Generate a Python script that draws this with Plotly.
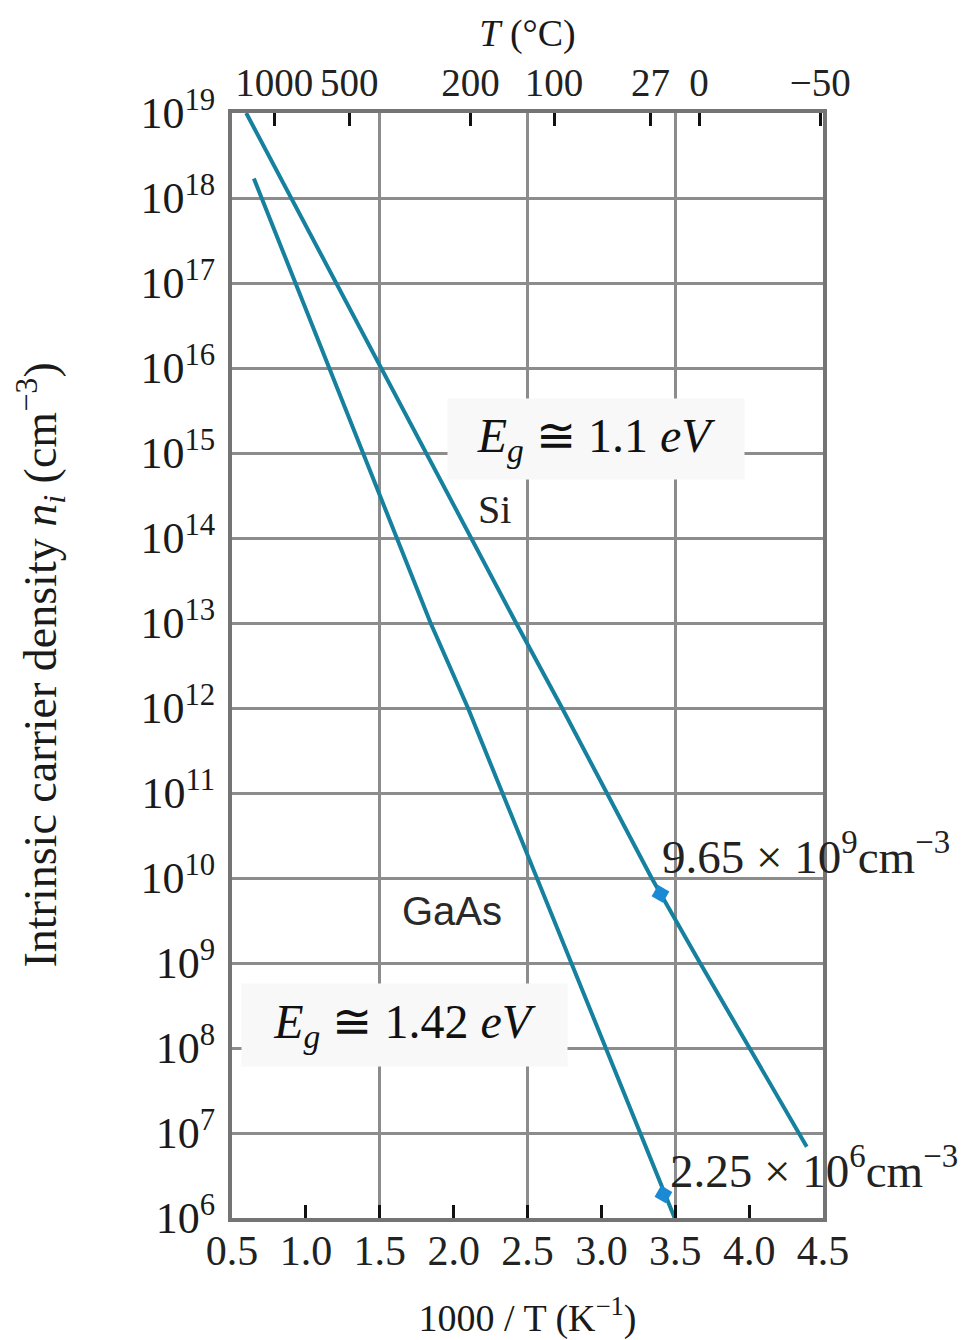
import plotly.graph_objects as go

# ---------------- data ----------------
si_x = [0.596, 0.90, 1.205, 1.51, 1.81, 2.118, 2.423, 2.734, 3.036, 3.34, 3.668, 4.0, 4.33, 4.39]
si_n = [1e19, 1e18, 1e17, 1e16, 1e15, 1e14, 1e13, 1e12, 1e11, 1e10, 1e9, 1e8, 1e7, 6.9e6]

gaas_x = [0.648, 0.701, 0.928, 1.16, 1.388, 1.619, 1.844, 2.097, 2.331, 2.566, 2.797, 3.03, 3.265, 3.496]
gaas_n = [1.7e18, 1e18, 1e17, 1e16, 1e15, 1e14, 1e13, 1e12, 1e11, 1e10, 1e9, 1e8, 1e7, 1e6]

si_mark_x = [3.40]
si_mark_n = [6.5e9]
gaas_mark_x = [3.42]
gaas_mark_n = [1.9e6]

x_ticks = [0.5, 1.0, 1.5, 2.0, 2.5, 3.0, 3.5, 4.0, 4.5]
x_ticktext = ["0.5", "1.0", "1.5", "2.0", "2.5", "3.0", "3.5", "4.0", "4.5"]
x_grid = [1.5, 2.5, 3.5]
y_exponents = list(range(6, 20))
top_temps_c = [1000, 500, 200, 100, 27, 0, -50]
top_ticktext = ["1000", "500", "200", "100", "27", "0", "−50"]

# ---------------- style ----------------
LINE = "#16809f"
MARK = "#1a8ad4"
GRID = "#8c8c8c"
FRAME = "#747474"
TXT = "#1a1a1a"
SERIF = "Liberation Serif"

top_ticks = [1000.0 / (t + 273.15) for t in top_temps_c]

fig = go.Figure()
fig.add_trace(go.Scatter(x=si_x, y=si_n, mode="lines", line=dict(color=LINE, width=4),
                         hoverinfo="skip", showlegend=False))
fig.add_trace(go.Scatter(x=gaas_x, y=gaas_n, mode="lines", line=dict(color=LINE, width=4),
                         hoverinfo="skip", showlegend=False))
fig.add_trace(go.Scatter(x=si_mark_x + gaas_mark_x, y=si_mark_n + gaas_mark_n, mode="markers",
                         marker=dict(symbol="square", size=13, angle=30, color=MARK,
                                     line=dict(width=0)),
                         hoverinfo="skip", showlegend=False))
# invisible trace to carry the top (°C) axis
fig.add_trace(go.Scatter(x=[x_ticks[0], x_ticks[-1]], y=[10 ** y_exponents[0]] * 2, xaxis="x2",
                         mode="markers", marker=dict(opacity=0), hoverinfo="skip",
                         showlegend=False))

fig.update_layout(
    width=961, height=1340, autosize=False,
    margin=dict(l=232, r=138, t=113, b=122),
    paper_bgcolor="white", plot_bgcolor="white",
    font=dict(family=SERIF, color=TXT, size=38),
    xaxis=dict(
        range=[0.5, 4.5], tickmode="array", tickvals=x_ticks, ticktext=x_ticktext,
        ticks="inside", ticklen=13, tickwidth=3, tickcolor="#111111", tickangle=0,
        showgrid=False, zeroline=False, automargin=False,
        showline=True, linecolor=FRAME, linewidth=4, mirror=True,
        tickfont=dict(family=SERIF, size=42, color="#222222"),
        ticklabelstandoff=-7,
        title=dict(text="1000 / T (K<sup>−1</sup>)", font=dict(family=SERIF, size=38, color=TXT),
                   standoff=33),
        minor=dict(tickmode="array", tickvals=x_grid, showgrid=True,
                   gridcolor=GRID, gridwidth=3, ticks=""),
    ),
    xaxis2=dict(
        overlaying="x", side="top", range=[0.5, 4.5],
        tickmode="array", tickvals=top_ticks, ticktext=top_ticktext,
        ticks="inside", ticklen=13, tickwidth=3, tickcolor="#111111", tickangle=0,
        showgrid=False, zeroline=False, showline=False, automargin=False,
        tickfont=dict(family=SERIF, size=39, color="#222222"),
        ticklabelstandoff=8,
        title=dict(text="<i>T</i> (°C)", font=dict(family=SERIF, size=38, color=TXT), standoff=2),
    ),
    yaxis=dict(
        type="log", range=[6, 19], tickmode="array",
        tickvals=[10 ** e for e in y_exponents],
        ticktext=[f"10<sup>{e}</sup>" for e in y_exponents],
        ticks="", showgrid=True, gridcolor=GRID, gridwidth=3, zeroline=False, automargin=False,
        showline=True, linecolor=FRAME, linewidth=4, mirror=True,
        tickfont=dict(family=SERIF, size=44, color=TXT),
        ticklabelstandoff=4,
    ),
)

annotations = [
    # band-gap callouts (boxes)
    dict(x=2.961, y=15.16, xref="x", yref="y",
         text="<i>E</i><sub><i>g</i></sub> ≅ 1.1 <i>eV</i>",
         showarrow=False, xanchor="center", yanchor="middle",
         width=296, height=80, bgcolor="#f8f8f8", borderpad=0,
         font=dict(family=SERIF, size=48, color="#111111")),
    dict(x=1.666, y=8.27, xref="x", yref="y",
         text="<i>E</i><sub><i>g</i></sub> ≅ 1.42 <i>eV</i>",
         showarrow=False, xanchor="center", yanchor="middle",
         width=325, height=82, bgcolor="#f8f8f8", borderpad=0,
         font=dict(family=SERIF, size=48, color="#111111")),
    # material labels
    dict(x=2.276, y=14.34, xref="x", yref="y", text="Si", showarrow=False,
         font=dict(family=SERIF, size=40, color="#222222")),
    dict(x=1.99, y=9.61, xref="x", yref="y", text="GaAs", showarrow=False,
         font=dict(family="Liberation Sans", size=40, color="#2a2a2a")),
    # 300 K values
    dict(x=3.40, y=10.29, xref="x", yref="y", xanchor="left", yanchor="middle",
         text="9.65 × 10<sup>9</sup>cm<sup>−3</sup>", showarrow=False,
         font=dict(family=SERIF, size=47, color="#222222")),
    dict(x=3.45, y=6.59, xref="x", yref="y", xanchor="left", yanchor="middle",
         text="2.25 × 10<sup>6</sup>cm<sup>−3</sup>", showarrow=False,
         font=dict(family=SERIF, size=47, color="#222222")),
    # y-axis title
    dict(x=(40 - 232) / 591, y=0.5, xref="paper", yref="paper", textangle=-90,
         xanchor="center", yanchor="middle", showarrow=False,
         text="Intrinsic carrier density <i>n</i><sub><i>i</i></sub> (cm<sup>−3</sup>)",
         font=dict(family=SERIF, size=46, color=TXT)),
]
fig.update_layout(annotations=annotations)

fig.write_html("out.html", config={"displayModeBar": False},
               post_script="document.body.style.margin='0px';")
